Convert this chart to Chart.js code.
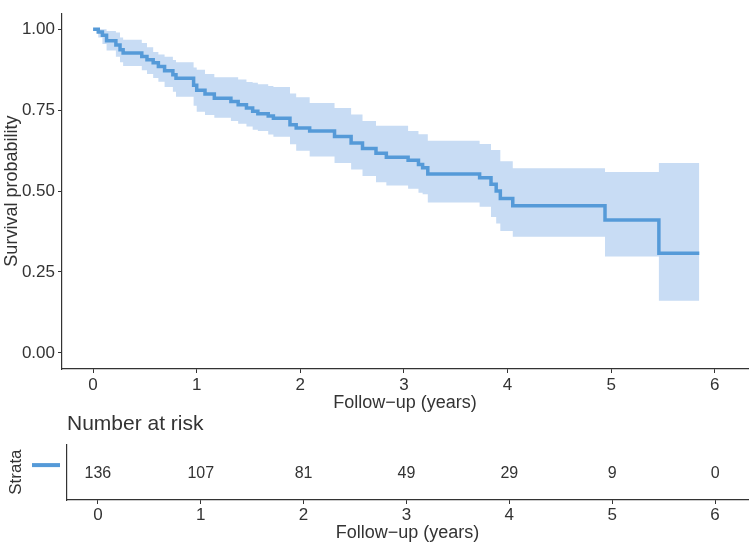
<!DOCTYPE html>
<html>
<head>
<meta charset="utf-8">
<script src="https://cdn.jsdelivr.net/npm/chart.js@4.4.1/dist/chart.umd.min.js"></script>
<style>
body { margin: 0; background: #fff; }
canvas { display: block; }
</style>
</head>
<body>
<canvas id="survChart" width="750" height="412"></canvas>
<canvas id="riskChart" width="750" height="132"></canvas>
<script>
// Kaplan-Meier curve
const times = [0, 0.05, 0.09, 0.13, 0.22, 0.26, 0.29, 0.47, 0.52, 0.58, 0.63, 0.69, 0.77, 0.80,
    0.97, 1.00, 1.08, 1.17, 1.33, 1.40, 1.48, 1.54, 1.59, 1.69, 1.74, 1.90, 1.96, 2.09,
    2.33, 2.49, 2.60, 2.73, 2.83, 3.04, 3.14, 3.18, 3.23, 3.73, 3.84, 3.89, 3.93, 4.05,
    4.94, 5.46, 5.85];
const surv = [1.000, 0.992, 0.982, 0.965, 0.952, 0.937, 0.927, 0.916, 0.906, 0.897, 0.885, 0.872, 0.860, 0.849,
    0.827, 0.812, 0.800, 0.787, 0.777, 0.767, 0.757, 0.747, 0.739, 0.732, 0.725, 0.705, 0.695, 0.686,
    0.669, 0.649, 0.632, 0.617, 0.605, 0.595, 0.582, 0.572, 0.553, 0.541, 0.521, 0.500, 0.477, 0.455,
    0.411, 0.308, 0.308];
const upper = [1.000, 1.000, 1.000, 0.995, 0.990, 0.975, 0.968, 0.958, 0.945, 0.930, 0.922, 0.915, 0.905, 0.898,
    0.882, 0.875, 0.862, 0.852, 0.852, 0.845, 0.837, 0.835, 0.830, 0.825, 0.822, 0.802, 0.790, 0.772,
    0.757, 0.737, 0.717, 0.702, 0.702, 0.686, 0.676, 0.676, 0.656, 0.646, 0.627, 0.627, 0.592, 0.571,
    0.559, 0.587, 0.587];
const lower = [1.000, 0.975, 0.955, 0.935, 0.915, 0.898, 0.887, 0.874, 0.862, 0.850, 0.838, 0.822, 0.807, 0.792,
    0.764, 0.745, 0.735, 0.727, 0.717, 0.708, 0.700, 0.690, 0.686, 0.675, 0.668, 0.645, 0.625, 0.607,
    0.587, 0.567, 0.547, 0.527, 0.517, 0.507, 0.495, 0.490, 0.465, 0.452, 0.420, 0.400, 0.377, 0.359,
    0.298, 0.161, 0.161];

// Number at risk table
const riskTimes = [0, 1, 2, 3, 4, 5, 6];
const riskCounts = [136, 107, 81, 49, 29, 9, 0];

const xTicks = [0, 1, 2, 3, 4, 5, 6];
const yTicks = [0, 0.25, 0.5, 0.75, 1];
const xMin = -0.3, xMax = 6.32;

const lineColor = '#559ad8';
const bandColor = '#c8dcf4';
const axisColor = '#333';
const textColor = '#333';

Chart.defaults.font.family = "'Liberation Sans', Arial, sans-serif";
Chart.defaults.color = textColor;

function toPoints(ys) {
    return times.map((t, i) => ({ x: t, y: ys[i] }));
}

function fixTicks(values) {
    return scale => { scale.ticks = values.map(v => ({ value: v })); };
}

// Main survival plot (order 0 = drawn on top)
new Chart(document.getElementById('survChart'), {
    type: 'line',
    data: {
        datasets: [
            { data: toPoints(lower), order: 2, stepped: true, borderWidth: 0, pointRadius: 0, fill: false },
            { data: toPoints(upper), order: 1, stepped: true, borderWidth: 0, pointRadius: 0, fill: '-1', backgroundColor: bandColor },
            { data: toPoints(surv), order: 0, stepped: true, borderColor: lineColor, borderWidth: 3.5, pointRadius: 0, fill: false }
        ]
    },
    options: {
        responsive: false,
        animation: false,
        layout: { padding: { top: 3, right: 2 } },
        plugins: { legend: { display: false }, tooltip: { enabled: false } },
        scales: {
            x: {
                type: 'linear',
                min: xMin,
                max: xMax,
                afterBuildTicks: fixTicks(xTicks),
                afterFit: s => { s.height = 43; },
                grid: { drawOnChartArea: false, tickLength: 4, color: axisColor },
                border: { color: axisColor, width: 1.2 },
                ticks: { font: { size: 17 }, color: textColor, padding: 2 },
                title: { display: true, text: 'Follow\u2212up (years)', font: { size: 18, lineHeight: 1 }, padding: { top: 0, bottom: 0 } }
            },
            y: {
                type: 'linear',
                min: -0.05,
                max: 1.05,
                afterBuildTicks: fixTicks(yTicks),
                afterFit: s => { s.width = 62; },
                grid: { drawOnChartArea: false, tickLength: 4, color: axisColor },
                border: { color: axisColor, width: 1.2 },
                ticks: { font: { size: 17 }, color: textColor, padding: 3, callback: v => v.toFixed(2) },
                title: { display: true, text: 'Survival probability', font: { size: 18, lineHeight: 1 }, padding: { top: 3, bottom: 0 } }
            }
        }
    }
});

// Risk table: numbers and strata key placed through the chart's scales
const riskLabels = {
    id: 'riskLabels',
    afterDatasetsDraw(chart) {
        const { ctx, scales: { x, y } } = chart;
        const yc = y.getPixelForValue(0.5);
        ctx.save();
        ctx.fillStyle = textColor;
        ctx.font = "16px 'Liberation Sans', Arial, sans-serif";
        ctx.textAlign = 'center';
        ctx.textBaseline = 'middle';
        riskTimes.forEach((t, i) => {
            ctx.fillText(String(riskCounts[i]), x.getPixelForValue(t), yc + 1);
        });
        // strata key
        ctx.fillStyle = lineColor;
        ctx.fillRect(chart.chartArea.left - 35, yc - 9, 28, 4);
        ctx.restore();
    }
};

new Chart(document.getElementById('riskChart'), {
    type: 'scatter',
    data: { datasets: [{ data: [] }] },
    options: {
        responsive: false,
        animation: false,
        layout: { padding: { right: 2 } },
        plugins: {
            legend: { display: false },
            tooltip: { enabled: false },
            title: {
                display: true,
                text: 'Number at risk',
                align: 'start',
                fullSize: false,
                color: textColor,
                font: { size: 21, weight: 'normal', lineHeight: 1.2 },
                padding: { top: 0, bottom: 7 }
            }
        },
        scales: {
            x: {
                type: 'linear',
                min: xMin,
                max: xMax,
                afterBuildTicks: fixTicks(xTicks),
                afterFit: s => { s.height = 44; },
                grid: { drawOnChartArea: false, tickLength: 4, color: axisColor },
                border: { color: axisColor, width: 1.2 },
                ticks: { font: { size: 17 }, color: textColor, padding: 1 },
                title: { display: true, text: 'Follow\u2212up (years)', font: { size: 18, lineHeight: 1 }, padding: { top: 0, bottom: 2 } }
            },
            y: {
                type: 'linear',
                min: 0,
                max: 1,
                afterFit: s => { s.width = 67; },
                grid: { display: false },
                border: { display: true, color: axisColor, width: 1.2 },
                ticks: { display: false },
                title: { display: true, text: 'Strata', font: { size: 17, lineHeight: 1 }, padding: { top: 7.5, bottom: 0 } }
            }
        }
    },
    plugins: [riskLabels]
});
</script>
</body>
</html>
